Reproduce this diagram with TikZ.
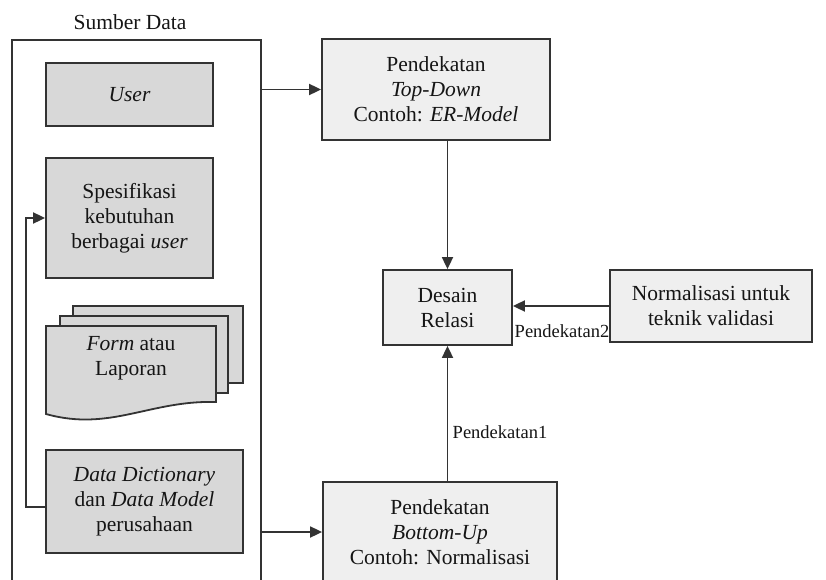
\documentclass[tikz,border=0pt]{standalone}
\usepackage{fontspec}
\setmainfont{Liberation Serif}
\usetikzlibrary{arrows.meta,calc}
\definecolor{edge}{HTML}{333333}
\definecolor{lightbox}{HTML}{EFEFEF}
\definecolor{darkbox}{HTML}{D8D8D8}
\definecolor{ink}{HTML}{151515}
\tikzset{
  box/.style={draw=edge, line width=1.8pt, fill=lightbox, align=center,
    text=ink, inner sep=0pt, font=\fontsize{21.5}{25}\selectfont},
  innerbox/.style={box, fill=darkbox},
  page/.style={draw=edge, line width=1.8pt, fill=darkbox},
  arr/.style={draw=edge, line width=1.8pt, -{Triangle[length=12pt,width=11pt]}},
  lbl/.style={text=ink, inner sep=0pt, font=\fontsize{18.5}{20}\selectfont},
  ttl/.style={text=ink, inner sep=0pt, font=\fontsize{21.5}{25}\selectfont}
}
\begin{document}
\begin{tikzpicture}[x=1pt,y=-1pt]
\useasboundingbox (0,0) rectangle (826,580);
\fill[white] (0,0) rectangle (826,580);
\clip (0,0) rectangle (826,580);

% source container and its title
\node[ttl] (title) at (130,22) {Sumber Data};
\node[box, fill=white, minimum width=249pt, minimum height=560pt] (src) at (136.5,320) {};

% data sources
\node[innerbox, minimum width=167pt, minimum height=63pt] (user) at (129.5,94.5) {\textit{User}};
\node[innerbox, minimum width=167pt, minimum height=120pt] (spek) at (129.5,218)
  {Spesifikasi\\kebutuhan\\berbagai \textit{user}};

% stacked document shape
\draw[page] (73,306) rectangle (243,383);
\draw[page] (60,316) rectangle (228,393);
\draw[page] (46,326) -- (216,326) -- (216,402)
  .. controls (150,400) and (110,432) .. (46,414) -- cycle;
\node[ttl, align=center] (form) at (131,358) {\textit{Form} atau\\Laporan};

\node[innerbox, minimum width=197pt, minimum height=103pt] (dd) at (144.5,501.5)
  {\textit{Data Dictionary}\\dan \textit{Data Model}\\perusahaan};

% approaches
\node[box, minimum width=228pt, minimum height=101pt] (td) at (436,89.5)
  {Pendekatan\\\textit{Top-Down}\\Contoh: \textit{ER-Model}};
\node[box, minimum width=129pt, minimum height=75pt] (desain) at (447.5,307.5)
  {Desain\\Relasi};
\node[box, minimum width=202pt, minimum height=72pt] (norm) at (711,306)
  {Normalisasi untuk\\teknik validasi};
\node[box, minimum width=234pt, minimum height=100pt] (bu) at (440,532)
  {Pendekatan\\\textit{Bottom-Up}\\Contoh: Normalisasi};

% connectors
\draw[arr] (src.east |- td.west) -- (td.west);
\draw[arr] (td.south -| desain.north) -- (desain.north);
\draw[arr] (norm.west) -- (norm.west -| desain.east);
\draw[arr] (desain.south |- bu.north) -- (desain.south);
\draw[arr] (src.east |- bu.west) -- (bu.west);
\draw[arr] ([yshift=-5.5pt]dd.west) -| ([xshift=-19pt]spek.west) -- (spek.west);

% connector labels
\node[lbl] (l2) at (562,331) {Pendekatan2};
\node[lbl] (l1) at (500,432) {Pendekatan1};
\end{tikzpicture}
\end{document}
